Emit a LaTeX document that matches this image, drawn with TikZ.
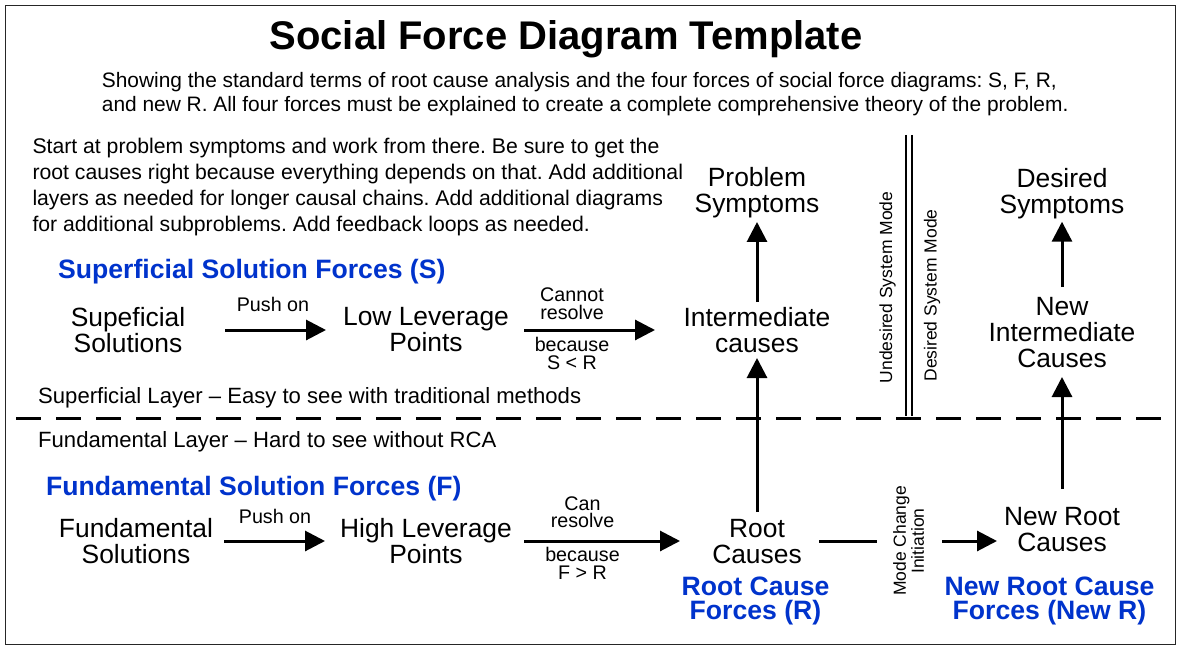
\documentclass[tikz,border=0pt]{standalone}
\usepackage{fontspec}
\setmainfont{Liberation Sans}
\usetikzlibrary{arrows.meta}
\definecolor{forceblue}{RGB}{0,51,204}
\frenchspacing
\begin{document}
\begin{tikzpicture}[x=1pt,y=-1pt,
  big/.style={font=\fontsize{26.4}{26}\selectfont, align=center, inner sep=0pt, anchor=north},
  small/.style={font=\fontsize{19.7}{17.5}\selectfont, align=center, inner sep=0pt, anchor=north},
  para/.style={font=\fontsize{21.2}{25.9}\selectfont, align=left, inner sep=0pt, anchor=north west},
  layer/.style={font=\fontsize{22.1}{24}\selectfont, inner sep=0pt, anchor=base west},
  force/.style={font=\fontsize{26.6}{24}\selectfont\bfseries, text=forceblue, align=center, inner sep=0pt},
  vlabel/.style={font=\fontsize{17.5}{18}\selectfont, align=center, inner sep=0pt, rotate=90},
  arr/.style={line width=3pt, -{Triangle[length=20pt,width=20pt]}},
  plainline/.style={line width=3pt}]

\useasboundingbox (0,0) rectangle (1182,652);
\fill[white] (0,0) rectangle (1182,652);
\draw[line width=1.5pt, black!85] (5.5,5.5) rectangle (1175.5,644.5);

% title and notes
\node[font=\fontsize{40}{40}\selectfont\bfseries, inner sep=0pt, anchor=base] (title) at (566,50) {Social Force Diagram Template};
\node[para, font=\fontsize{20.9}{24}\selectfont] (sub) at (101.7,72.2) {Showing the standard terms of root cause analysis and the four forces of social force diagrams: S, F, R,\\and new R. All four forces must be explained to create a complete comprehensive theory of the problem.};
\node[para] (intro) at (32.3,138.1) {Start at problem symptoms and work from there. Be sure to get the\\root causes right because everything depends on that. Add additional\\layers as needed for longer causal chains. Add additional diagrams\\for additional subproblems. Add feedback loops as needed.};

% headings and layers
\node[force, anchor=base west] (sfs) at (58,278) {Superficial Solution Forces (S)};
\node[force, anchor=base west] (ffs) at (46,495) {Fundamental Solution Forces (F)};
\node[layer] (sl) at (38,403.3) {Superficial Layer – Easy to see with traditional methods};
\node[layer] (fl) at (38,447.5) {Fundamental Layer – Hard to see without RCA};
\draw[line width=3pt, dash pattern=on 25pt off 15pt] (16,418) -- (1165,418);

% main nodes
\node[big] (ps) at (757,167.5) {Problem\\Symptoms};
\node[big] (ic) at (757,307.5) {Intermediate\\causes};
\node[big] (ss) at (128,307.5) {Supeficial\\Solutions};
\node[big] (ll) at (426,307.5) {Low Leverage\\Points};
\node[big] (fs) at (136,518.5) {Fundamental\\Solutions};
\node[big] (hl) at (426,518.5) {High Leverage\\Points};
\node[big] (rc) at (757,519) {Root\\Causes};
\node[big] (nr) at (1062,507) {New Root\\Causes};
\node[big] (ni) at (1062,297) {New\\Intermediate\\Causes};
\node[big] (ds) at (1062,168) {Desired\\Symptoms};

\node[force, anchor=north] (rcf) at (755.5,577) {Root Cause\\Forces (R)};
\node[force, anchor=north] (nrf) at (1049.5,576.5) {New Root Cause\\Forces (New R)};

% small labels
\node[small, anchor=base] (push1) at (273,311) {Push on};
\node[small, anchor=base] (push2) at (275,523) {Push on};
\node[small] (cr) at (572,288) {Cannot\\resolve};
\node[small] (bsr) at (572,337.5) {because\\S < R};
\node[small] (can) at (582.5,496.5) {Can\\resolve};
\node[small] (bfr) at (582.5,547.5) {because\\F > R};

% mode labels
\node[vlabel] (usm) at (887.5,287.5) {Undesired System Mode};
\node[vlabel] (dsm) at (932,295.5) {Desired System Mode};
\node[vlabel] (mc) at (908.5,541) {Mode Change\\Initiation};
\draw[line width=2pt] (906,135) -- (906,416);
\draw[line width=2pt] (911.5,135) -- (911.5,416);

% connectors
\draw[arr] ([xshift=97,yshift=-22.5]ss.north) -- ([xshift=-100,yshift=-22.5]ll.north);
\draw[arr] ([xshift=98,yshift=-22.5]ll.north) -- ([xshift=-102,yshift=-22.5]ic.north);
\draw[arr] ([xshift=88,yshift=-22.5]fs.north) -- ([xshift=-101,yshift=-22.5]hl.north);
\draw[arr] ([xshift=98,yshift=-22.5]hl.north) -- ([xshift=-77,yshift=-22]rc.north);
\draw[plainline] ([xshift=62,yshift=-22]rc.north) -- ([xshift=-31.5]mc.center);
\draw[arr] ([xshift=33.5]mc.center) -- ([xshift=-65,yshift=-34]nr.north);
\draw[arr] ([yshift=5.5]ic.north) -- ([yshift=-54.5]ps.north);
\draw[arr] ([yshift=7]rc.north) -- ([yshift=-50.5]ic.north);
\draw[arr] ([yshift=18]nr.north) -- ([yshift=-80]ni.north);
\draw[arr] ([yshift=10]ni.north) -- ([yshift=-53.7]ds.north);
\end{tikzpicture}
\end{document}
